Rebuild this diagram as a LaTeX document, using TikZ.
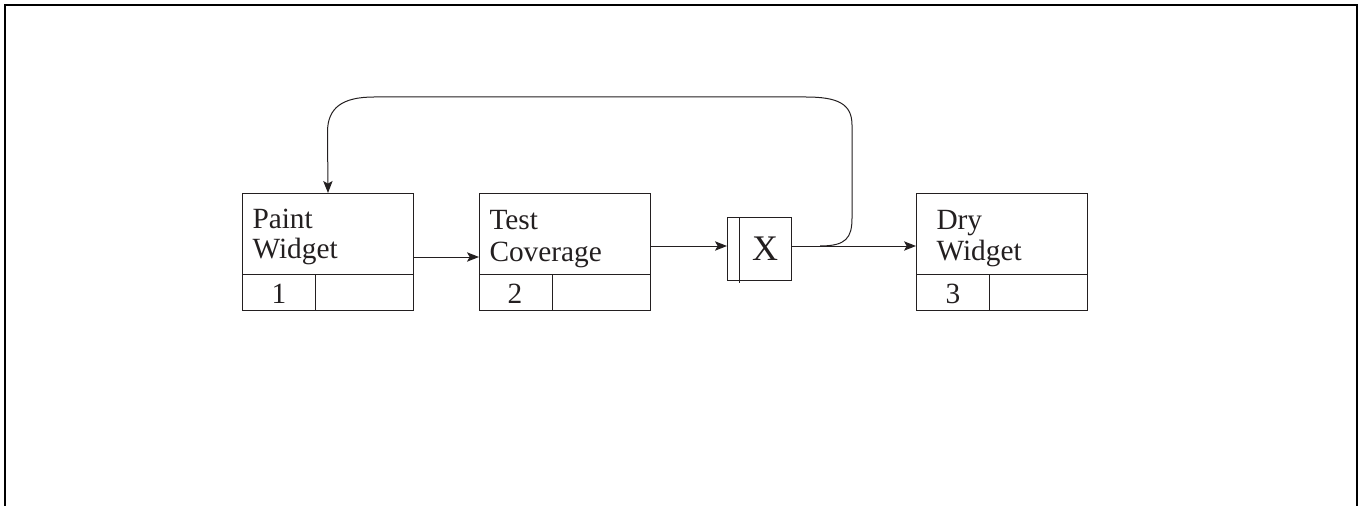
\documentclass[tikz,border=0pt]{standalone}
\usepackage{fontspec}
\setmainfont{Liberation Serif}
\usetikzlibrary{arrows.meta,calc}
\definecolor{ink}{RGB}{35,31,32}
\begin{document}
\begin{tikzpicture}[x=0.75pt,y=-0.75pt,line width=0.75pt,color=ink,
  proc/.style={draw, rectangle, minimum width=128.25pt, minimum height=87.75pt, inner sep=0pt, anchor=north west},
  xbox/.style={draw, rectangle, minimum width=48pt, minimum height=47.25pt, inner sep=0pt, anchor=north west},
  lbl/.style={anchor=base west, inner sep=0pt, font=\fontsize{22}{26}\selectfont},
  num/.style={anchor=base, inner sep=0pt, font=\fontsize{22}{26}\selectfont},
  arr/.style={-{Stealth[length=9pt,width=7pt,inset=2pt]}}]
\useasboundingbox (0,0) rectangle (1359,506);
% frame
\draw[line width=1pt, black] (5,506) -- (5,5) -- (1357,5) -- (1357,506);
% process boxes
\node[proc] (p1) at (242,193) {};
\node[proc] (p2) at (479,193) {};
\node[proc] (p3) at (916,193) {};
\foreach \b in {p1,p2,p3}{
  \draw ($(\b.north west)+(0,81)$) -- ($(\b.north east)+(0,81)$);
  \draw ($(\b.north west)+(73,81)$) -- ($(\b.south west)+(73,0)$);
}
% labels
\node[lbl] (p1a) at (252,228) {Paint};
\node[lbl] (p1b) at (252,258) {Widget};
\node[lbl] (p2a) at (489,229) {Test};
\node[lbl] (p2b) at (489,261) {Coverage};
\node[lbl] (p3a) at (936,229) {Dry};
\node[lbl] (p3b) at (936,260) {Widget};
\node[num] (p1n) at ($(p1.south west)+(37,-8)$) {1};
\node[num] (p2n) at ($(p2.south west)+(36,-8)$) {2};
\node[num] (p3n) at ($(p3.south west)+(37,-8)$) {3};
% X junction
\node[xbox] (xb) at (727,217) {};
\draw ($(xb.north west)+(12,0)$) -- ($(xb.south west)+(12,2)$);
\node[anchor=base, inner sep=0pt, font=\fontsize{27}{30}\selectfont] (xt) at (765,260) {X};
% connectors
\draw[arr] (p1.east |- 0,257) -- (p2.west |- 0,257);
\draw[arr] (p2.east |- 0,246) -- (xb.west |- 0,246);
\draw[arr] (xb.east |- 0,246) -- (p3.west |- 0,246);
\coordinate (fb) at (820,246);
\draw[arr] (fb) .. controls (846,246) and (852,238) .. (852,218) -- (852,125)
  .. controls (852,104) and (838,97) .. (806,97) -- (374,97)
  .. controls (342,97) and (327.5,108) .. (327.5,132) -- (p1.north);
\end{tikzpicture}
\end{document}
